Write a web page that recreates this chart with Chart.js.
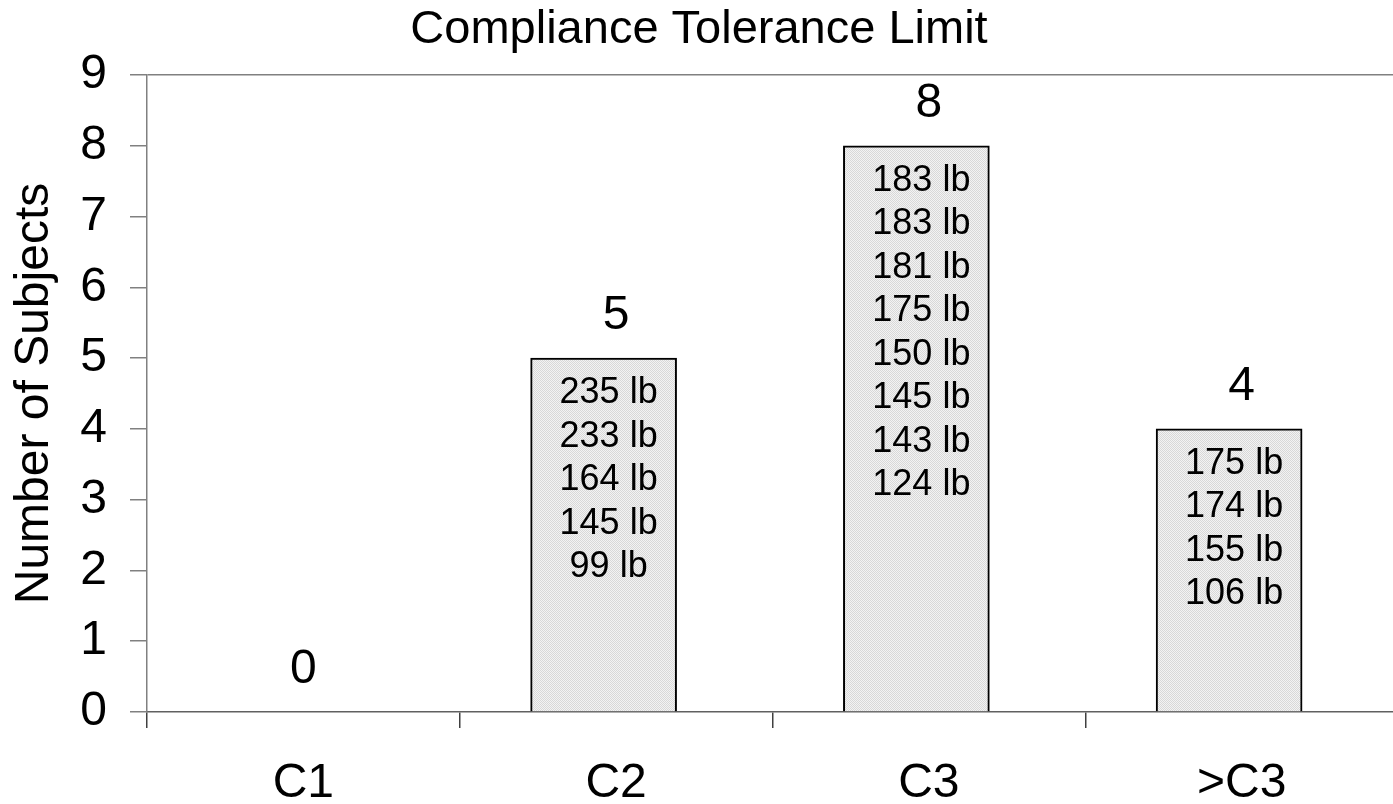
<!DOCTYPE html>
<html>
<head>
<meta charset="utf-8">
<title>Compliance Tolerance Limit</title>
<script src="https://cdn.jsdelivr.net/npm/chart.js@4.4.1/dist/chart.umd.min.js"></script>
<style>
  html, body { margin: 0; padding: 0; background: #fff; overflow: hidden; }
  #wrap { position: relative; width: 1398px; height: 804px; }
</style>
</head>
<body>
<div id="wrap"><canvas id="chart"></canvas></div>
<script>
const categories = ['C1', 'C2', 'C3', '>C3'];
const subjectCounts = [0, 5, 8, 4];
const c1Weights = [];
const c2Weights = [235, 233, 164, 145, 99];
const c3Weights = [183, 183, 181, 175, 150, 145, 143, 124];
const overC3Weights = [175, 174, 155, 106];
const weightLists = [c1Weights, c2Weights, c3Weights, overC3Weights];

const FONT = "'Liberation Sans', Arial, sans-serif";

// light dotted fill like the old spreadsheet pattern
function stipple() {
  const c = document.createElement('canvas')
  c.width = 4
  c.height = 4
  const g = c.getContext('2d')
  g.fillStyle = '#f3f3f3'
  g.fillRect(0, 0, 4, 4)
  g.fillStyle = '#d8d8d8'
  for (let y = 0; y < 4; y++) {
    for (let x = 0; x < 4; x++) {
      if ((x + y) % 2 === 0) g.fillRect(x, y, 1, 1)
    }
  }
  return g.createPattern(c, 'repeat')
}

const barLabels = {
  id: 'barLabels',
  afterDatasetsDraw(chart) {
    const ctx = chart.ctx
    const xs = chart.scales.x
    const ys = chart.scales.y
    const meta = chart.getDatasetMeta(0)
    ctx.save()
    ctx.fillStyle = '#000'
    ctx.textAlign = 'center'
    ctx.textBaseline = 'middle'
    subjectCounts.forEach((v, i) => {
      const top = ys.getPixelForValue(v)
      ctx.font = `48px ${FONT}`
      ctx.fillText(String(v), xs.getPixelForValue(i), top - 42)
      ctx.font = `36px ${FONT}`
      const bx = meta.data[i].x
      weightLists[i].forEach((w, j) => {
        ctx.fillText(w + ' lb', bx + 5, top + 35 + j * 43.5)
      })
    })
    ctx.restore()
  }
}

new Chart(document.getElementById('chart'), {
  type: 'bar',
  data: {
    labels: categories,
    datasets: [{
      data: subjectCounts.map((v, i) => ({ x: i, y: v })),
      xAxisID: 'xb',
      backgroundColor: stipple(),
      borderColor: '#000',
      borderWidth: 2,
      barThickness: 146
    }]
  },
  options: {
    responsive: true,
    maintainAspectRatio: false,
    animation: false,
    layout: { padding: 0 },
    plugins: {
      legend: { display: false },
      tooltip: { enabled: false },
      title: {
        display: true,
        text: 'Compliance Tolerance Limit',
        color: '#000',
        font: { family: FONT, size: 47, weight: 'normal' },
        padding: { top: 2, bottom: 16.6 }
      }
    },
    scales: {
      x: {
        type: 'category',
        offset: true,
        grid: {
          offset: true,
          drawOnChartArea: false,
          color: '#404040',
          tickColor: '#404040',
          tickLength: 16,
          lineWidth: 1.5
        },
        border: { display: true, color: '#606060', width: 1.5 },
        ticks: { color: '#000', font: { family: FONT, size: 48 }, padding: 27, maxRotation: 0 },
        afterFit(s) { s.height = 92 }
      },
      // hidden axis for the bars: they sit a little left of the category centres
      xb: {
        type: 'linear',
        display: false,
        offset: false,
        min: -0.46,
        max: 3.54
      },
      y: {
        min: 0,
        max: 9,
        grid: {
          color: c => (c.tick && c.tick.value === 9 ? '#808080' : 'rgba(0,0,0,0)'),
          tickColor: '#808080',
          tickLength: 17,
          lineWidth: 1.5
        },
        border: { display: true, color: '#808080', width: 1.5 },
        ticks: { stepSize: 1, color: '#000', font: { family: FONT, size: 48 }, padding: 23 },
        title: {
          display: true,
          text: 'Number of Subjects',
          color: '#000',
          font: { family: FONT, size: 48 },
          padding: { top: 6, bottom: 0 }
        },
        afterFit(s) { s.width = 147 }
      }
    }
  },
  plugins: [barLabels]
})
</script>
</body>
</html>
